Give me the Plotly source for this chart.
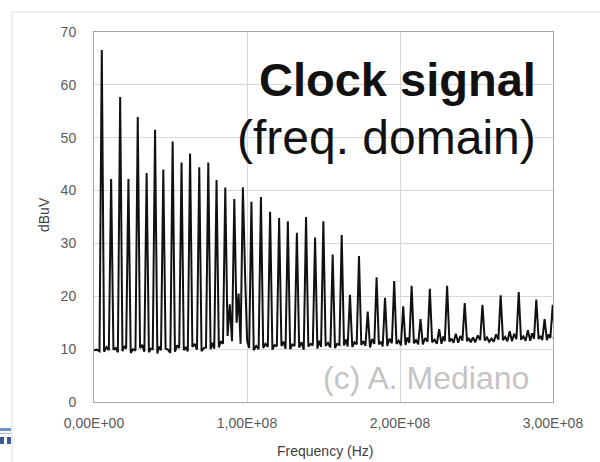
import plotly.graph_objects as go

# ---------------- data ----------------
peak_freq_mhz = [5.1, 11.2, 17.1, 22.5, 28.6, 34.4, 39.9, 45.3, 51.4, 57.2,
                 62.8, 68.8, 74.7, 80.1, 85.8, 91.7, 97.3, 102.9, 109.1, 115.1,
                 121.0, 126.7, 132.6, 138.6, 144.5, 149.9, 156.0, 161.9, 167.3, 173.2,
                 178.9, 184.7, 190.2, 196.2, 202.1, 207.6, 213.4, 219.5, 225.6, 230.8,
                 236.5, 242.3, 247.7, 253.9, 259.8, 265.8, 271.7, 277.6, 283.6, 289.1,
                 294.5, 299.8]
peak_level_dbuv = [66.6, 42.2, 57.7, 42.2, 53.9, 43.3, 51.5, 44.0, 49.3, 45.3,
                   47.0, 44.4, 45.3, 42.0, 40.6, 38.4, 40.6, 37.9, 38.8, 36.0,
                   34.8, 34.2, 32.0, 35.0, 31.1, 34.2, 27.9, 31.6, 20.3, 27.6,
                   17.1, 23.6, 19.7, 22.9, 18.1, 22.0, 15.7, 21.4, 13.8, 22.0,
                   12.9, 18.7, 12.2, 18.4, 12.0, 20.2, 13.4, 20.8, 13.6, 19.4,
                   15.7, 18.4]
# noise floor in each gap: [after previous peak, middle of gap, before next peak]
gap_floor_dbuv = [
    [9.8, 9.9, 9.6], [9.5, 10.4, 9.8], [9.9, 10.2, 9.4], [9.6, 10.6, 10.1],
    [9.3, 10.0, 9.7], [10.2, 10.8, 9.5], [9.4, 10.1, 10.0], [9.2, 10.5, 9.8],
    [10.1, 9.9, 9.3], [9.5, 10.7, 10.2], [9.8, 10.3, 9.6], [10.4, 11.0, 9.9],
    [9.6, 10.2, 10.3], [10.0, 11.2, 10.1], [10.3, 11.5, 11.0], [12.5, 18.5, 11.5],
    [15.0, 20.5, 11.0], [23.5, 11.5, 10.2], [9.8, 10.6, 10.0], [10.2, 11.0, 10.4],
    [9.9, 10.8, 10.5], [10.6, 11.4, 10.1], [10.0, 10.9, 10.6], [10.3, 11.3, 9.9],
    [10.5, 11.0, 10.7], [10.1, 11.6, 10.4], [10.6, 11.2, 10.3], [10.2, 11.0, 10.8],
    [10.7, 11.8, 10.5], [10.4, 11.3, 10.9], [10.8, 11.5, 10.6], [10.3, 11.9, 11.0],
    [10.9, 11.4, 10.5], [10.6, 12.0, 11.1], [11.0, 11.6, 10.7], [10.8, 12.2, 11.2],
    [11.1, 11.7, 10.9], [10.9, 12.1, 11.4], [11.3, 11.8, 11.0], [11.0, 12.4, 11.5],
    [11.4, 12.0, 11.2], [11.2, 12.5, 11.6], [11.5, 12.1, 11.3], [11.3, 12.6, 11.7],
    [11.6, 12.2, 11.4], [11.4, 12.8, 11.8], [11.7, 12.3, 11.5], [11.5, 12.9, 11.9],
    [11.8, 12.4, 11.6], [11.6, 13.0, 12.0], [11.9, 12.5, 11.7], [11.7, 12.8, 12.1],
    [12.0, 12.2, 12.0],
]
x_tick_values = [0, 1e8, 2e8, 3e8]
x_tick_labels = ["0,00E+00", "1,00E+08", "2,00E+08", "3,00E+08"]
y_tick_values = [0, 10, 20, 30, 40, 50, 60, 70]

# ---------------- build the trace table ----------------
half_base = 1.5  # MHz, half-width of each spike at its foot (drawing style)
f_start, f_end = 0.0, 300.0
xs, ys = [], []
bounds = [None] + peak_freq_mhz + [None]
for k, (lo, mid, hi) in enumerate(gap_floor_dbuv):
    a = bounds[k]
    b = bounds[k + 1]
    a_pos = f_start if a is None else a + half_base
    b_pos = f_end if b is None else b - half_base
    xs += [a_pos, (a_pos + b_pos) / 2, b_pos]
    ys += [lo, mid, hi]
    if b is not None:
        xs.append(b)
        ys.append(peak_level_dbuv[k])
xs_hz = [v * 1e6 for v in xs]

# ---------------- figure ----------------
W, H = 600, 462
L, R, T, B = 94, 47, 32, 60
PW, PH = W - L - R, H - T - B


def px(xpix):
    return (xpix - L) / PW


def py(ypix):
    return (H - B - ypix) / PH


fig = go.Figure()
fig.add_trace(go.Scatter(x=xs_hz, y=ys, mode="lines",
                         line=dict(color="#111111", width=2.0),
                         hoverinfo="skip", showlegend=False))

tick_font = dict(family="Liberation Sans, Arial, sans-serif", size=14, color="#595959")

fig.update_layout(
    width=W, height=H, autosize=False,
    margin=dict(l=L, r=R, t=T, b=B, pad=0),
    paper_bgcolor="white", plot_bgcolor="white",
    font=dict(family="Liberation Sans, Arial, sans-serif"),
    xaxis=dict(range=[0, 3e8], tickvals=x_tick_values, ticktext=x_tick_labels,
               showgrid=True, gridcolor="#d9d9d9", gridwidth=1,
               showline=True, linecolor="#a6a6a6", linewidth=1, mirror=True,
               zeroline=False, ticks="", tickfont=tick_font, ticklabelstandoff=8),
    yaxis=dict(range=[0, 70], tickvals=y_tick_values,
               showgrid=True, gridcolor="#d9d9d9", gridwidth=1,
               showline=True, linecolor="#a6a6a6", linewidth=1, mirror=True,
               zeroline=False, ticks="", tickfont=tick_font, ticklabelstandoff=14),
)

annotations = [
    dict(text="<b>Clock signal</b>", x=px(538), y=py(79), xanchor="right", yanchor="middle",
         font=dict(family="Liberation Sans, Arial, sans-serif", size=47, color="#111111")),
    dict(text="(freq. domain)", x=px(538), y=py(137), xanchor="right", yanchor="middle",
         font=dict(family="Liberation Sans, Arial, sans-serif", size=48, color="#111111")),
    dict(text="(c) A. Mediano", x=px(531), y=py(378), xanchor="right", yanchor="middle",
         font=dict(family="Liberation Sans, Arial, sans-serif", size=32, color="#c4c4c4")),
    dict(text="dBuV", x=px(44), y=py(215), xanchor="center", yanchor="middle", textangle=-90,
         font=dict(family="Liberation Sans, Arial, sans-serif", size=14, color="#404040")),
    dict(text="Frequency (Hz)", x=px(325), y=py(451), xanchor="center", yanchor="middle",
         font=dict(family="Liberation Sans, Arial, sans-serif", size=14, color="#404040")),
]
for a in annotations:
    a.update(xref="paper", yref="paper", showarrow=False)
fig.update_layout(annotations=annotations)

shapes = [
    # outer chart frame
    dict(type="line", x0=px(12), x1=px(600), y0=py(12), y1=py(12),
         line=dict(color="#dcdcdc", width=1)),
    dict(type="line", x0=px(12), x1=px(12), y0=py(12), y1=py(462),
         line=dict(color="#dcdcdc", width=1)),
    # small toolbar icon at bottom-left
    dict(type="rect", x0=px(0), x1=px(11), y0=py(428), y1=py(431),
         fillcolor="#6f8fc4", line=dict(width=0)),
    dict(type="rect", x0=px(0), x1=px(11), y0=py(433), y1=py(434),
         fillcolor="#a9bbd9", line=dict(width=0)),
    dict(type="rect", x0=px(0), x1=px(4), y0=py(437), y1=py(444),
         fillcolor="#3a5a96", line=dict(width=0)),
    dict(type="rect", x0=px(7), x1=px(11), y0=py(437), y1=py(444),
         fillcolor="#3a5a96", line=dict(width=0)),
]
for s in shapes:
    s.update(xref="paper", yref="paper", layer="below")
fig.update_layout(shapes=shapes)

fig.write_html("out.html")
